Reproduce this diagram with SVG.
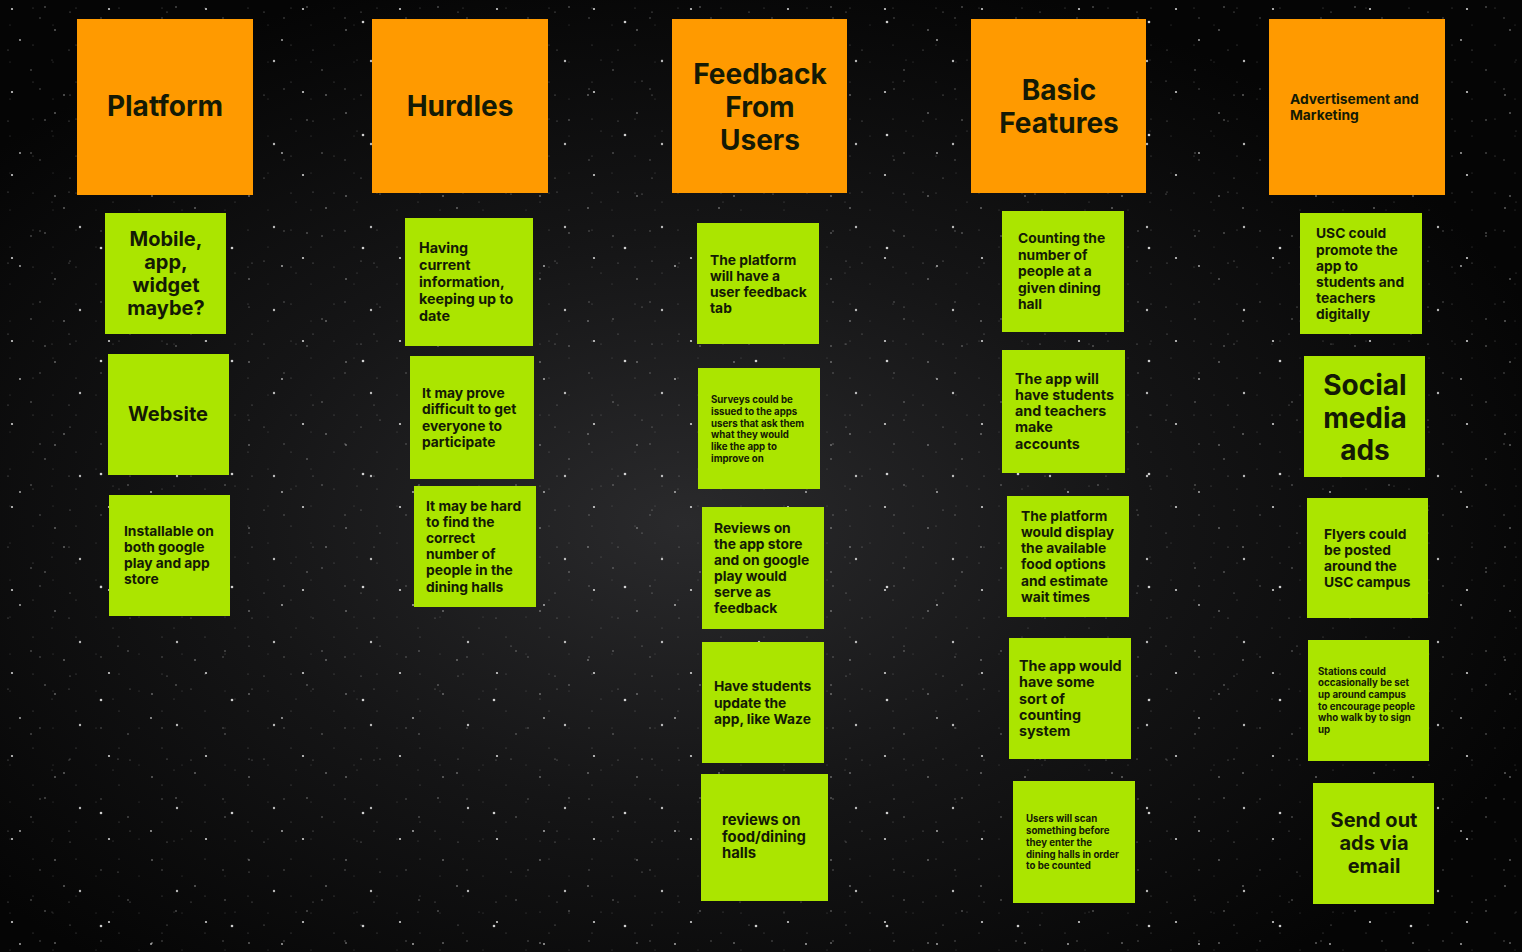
<svg xmlns="http://www.w3.org/2000/svg" width="1522" height="952" viewBox="0 0 1522 952">
<style>
.hdr{fill:#FF9A00}
.note{fill:#ABE500}
.t{font-family:Inter,"Open Sans","Liberation Sans",sans-serif;font-weight:700;fill:#141a05}
.h{font-size:28px;text-anchor:middle}
.big{font-size:20px;text-anchor:middle}
.m{font-size:13.8px}
.s{font-size:9.7px}
</style>
<defs>
<radialGradient id="haze" cx="0.45" cy="0.55" r="0.6">
<stop offset="0" stop-color="#2a2a2c"/>
<stop offset="0.5" stop-color="#151516"/>
<stop offset="1" stop-color="#050505"/>
</radialGradient>
<pattern id="st1" width="97" height="83" patternUnits="userSpaceOnUse">
<circle cx="12" cy="9" r="1.1" fill="#fff" opacity="0.8"/>
<circle cx="55" cy="30" r="0.8" fill="#fff" opacity="0.6"/>
<circle cx="80" cy="61" r="1.2" fill="#fff" opacity="0.7"/>
<circle cx="31" cy="70" r="0.7" fill="#fff" opacity="0.5"/>
<circle cx="70" cy="12" r="0.6" fill="#fff" opacity="0.5"/>
</pattern>
<pattern id="st2" width="131" height="113" patternUnits="userSpaceOnUse">
<circle cx="20" cy="40" r="0.9" fill="#fff" opacity="0.7"/>
<circle cx="101" cy="22" r="1.3" fill="#fff" opacity="0.8"/>
<circle cx="64" cy="95" r="0.8" fill="#fff" opacity="0.6"/>
<circle cx="118" cy="81" r="0.6" fill="#fff" opacity="0.5"/>
<circle cx="45" cy="7" r="0.7" fill="#fff" opacity="0.55"/>
</pattern>
<pattern id="st3" width="61" height="71" patternUnits="userSpaceOnUse">
<circle cx="8" cy="50" r="0.6" fill="#ddd" opacity="0.5"/>
<circle cx="40" cy="18" r="0.7" fill="#ddd" opacity="0.45"/>
<circle cx="52" cy="60" r="0.5" fill="#ddd" opacity="0.4"/>
</pattern>
<pattern id="st4" width="43" height="37" patternUnits="userSpaceOnUse">
<circle cx="10" cy="25" r="0.5" fill="#ccc" opacity="0.35"/>
<circle cx="33" cy="8" r="0.6" fill="#ccc" opacity="0.4"/>
</pattern>
</defs>
<g id="background">
<rect width="1522" height="952" fill="url(#haze)"/>
<rect width="1522" height="952" fill="url(#st4)"/>
<rect width="1522" height="952" fill="url(#st1)"/>
<rect width="1522" height="952" fill="url(#st2)"/>
<rect width="1522" height="952" fill="url(#st3)"/>
</g>

<g id="h-platform"><rect class="hdr" x="77" y="19" width="176" height="176"/><text class="t h" x="165" y="116">Platform</text></g>
<g id="h-hurdles"><rect class="hdr" x="372" y="19" width="176" height="174"/><text class="t h" x="460" y="116">Hurdles</text></g>
<g id="h-feedback"><rect class="hdr" x="672" y="19" width="175" height="174"/><text class="t h"><tspan x="760" y="84">Feedback</tspan><tspan x="760" y="117">From</tspan><tspan x="760" y="150">Users</tspan></text></g>
<g id="h-basic"><rect class="hdr" x="971" y="19" width="175" height="174"/><text class="t h"><tspan x="1059" y="100">Basic</tspan><tspan x="1059" y="133">Features</tspan></text></g>
<g id="h-advert"><rect class="hdr" x="1269" y="19" width="176" height="176"/><text class="t" style="font-size:13.8px"><tspan x="1290" y="104">Advertisement and</tspan><tspan x="1290" y="120">Marketing</tspan></text></g>

<g id="n-mobile"><rect class="note" x="105" y="213" width="121" height="121"/><text class="t big"><tspan x="166" y="246">Mobile,</tspan><tspan x="166" y="269">app,</tspan><tspan x="166" y="292">widget</tspan><tspan x="166" y="315">maybe?</tspan></text></g>
<g id="n-website"><rect class="note" x="108" y="354" width="121" height="121"/><text class="t big" x="168" y="421">Website</text></g>
<g id="n-installable"><rect class="note" x="109" y="495" width="121" height="121"/><text class="t m"><tspan x="124" y="536">Installable on</tspan><tspan x="124" y="552">both google</tspan><tspan x="124" y="568">play and app</tspan><tspan x="124" y="584">store</tspan></text></g>

<g id="n-having"><rect class="note" x="405" y="218" width="128" height="128"/><text class="t m" style="font-size:14.3px"><tspan x="419" y="253">Having</tspan><tspan x="419" y="270">current</tspan><tspan x="419" y="287">information,</tspan><tspan x="419" y="304">keeping up to</tspan><tspan x="419" y="321">date</tspan></text></g>
<g id="n-prove"><rect class="note" x="410" y="356" width="124" height="123"/><text class="t m"><tspan x="422" y="398">It may prove</tspan><tspan x="422" y="414">difficult to get</tspan><tspan x="422" y="431">everyone to</tspan><tspan x="422" y="447">participate</tspan></text></g>
<g id="n-hard"><rect class="note" x="414" y="486" width="122" height="121"/><text class="t m"><tspan x="426" y="511">It may be hard</tspan><tspan x="426" y="527">to find the</tspan><tspan x="426" y="543">correct</tspan><tspan x="426" y="559">number of</tspan><tspan x="426" y="575">people in the</tspan><tspan x="426" y="592">dining halls</tspan></text></g>

<g id="n-tab"><rect class="note" x="697" y="223" width="122" height="121"/><text class="t m"><tspan x="710" y="265">The platform</tspan><tspan x="710" y="281">will have a</tspan><tspan x="710" y="297">user feedback</tspan><tspan x="710" y="313">tab</tspan></text></g>
<g id="n-surveys"><rect class="note" x="698" y="368" width="122" height="121"/><text class="t s"><tspan x="711" y="403">Surveys could be</tspan><tspan x="711" y="415">issued to the apps</tspan><tspan x="711" y="427">users that ask them</tspan><tspan x="711" y="438">what they would</tspan><tspan x="711" y="450">like the app to</tspan><tspan x="711" y="462">improve on</tspan></text></g>
<g id="n-reviews"><rect class="note" x="702" y="507" width="122" height="122"/><text class="t m"><tspan x="714" y="533">Reviews on</tspan><tspan x="714" y="549">the app store</tspan><tspan x="714" y="565">and on google</tspan><tspan x="714" y="581">play would</tspan><tspan x="714" y="597">serve as</tspan><tspan x="714" y="613">feedback</tspan></text></g>
<g id="n-waze"><rect class="note" x="702" y="642" width="122" height="121"/><text class="t m"><tspan x="714" y="691">Have students</tspan><tspan x="714" y="708">update the</tspan><tspan x="714" y="724">app, like Waze</tspan></text></g>
<g id="n-food"><rect class="note" x="701" y="774" width="127" height="127"/><text class="t m" style="font-size:14.8px"><tspan x="722" y="825">reviews on</tspan><tspan x="722" y="842">food/dining</tspan><tspan x="722" y="858">halls</tspan></text></g>

<g id="n-counting"><rect class="note" x="1002" y="211" width="122" height="121"/><text class="t m"><tspan x="1018" y="243">Counting the</tspan><tspan x="1018" y="260">number of</tspan><tspan x="1018" y="276">people at a</tspan><tspan x="1018" y="293">given dining</tspan><tspan x="1018" y="309">hall</tspan></text></g>
<g id="n-accounts"><rect class="note" x="1002" y="350" width="123" height="123"/><text class="t m" style="font-size:14.3px"><tspan x="1015" y="384">The app will</tspan><tspan x="1015" y="400">have students</tspan><tspan x="1015" y="416">and teachers</tspan><tspan x="1015" y="432">make</tspan><tspan x="1015" y="449">accounts</tspan></text></g>
<g id="n-display"><rect class="note" x="1007" y="496" width="122" height="121"/><text class="t m"><tspan x="1021" y="521">The platform</tspan><tspan x="1021" y="537">would display</tspan><tspan x="1021" y="553">the available</tspan><tspan x="1021" y="569">food options</tspan><tspan x="1021" y="586">and estimate</tspan><tspan x="1021" y="602">wait times</tspan></text></g>
<g id="n-counting-sys"><rect class="note" x="1009" y="638" width="122" height="121"/><text class="t m" style="font-size:14.3px"><tspan x="1019" y="671">The app would</tspan><tspan x="1019" y="687">have some</tspan><tspan x="1019" y="704">sort of</tspan><tspan x="1019" y="720">counting</tspan><tspan x="1019" y="736">system</tspan></text></g>
<g id="n-scan"><rect class="note" x="1013" y="781" width="122" height="122"/><text class="t s"><tspan x="1026" y="822">Users will scan</tspan><tspan x="1026" y="834">something before</tspan><tspan x="1026" y="846">they enter the</tspan><tspan x="1026" y="858">dining halls in order</tspan><tspan x="1026" y="869">to be counted</tspan></text></g>

<g id="n-usc"><rect class="note" x="1300" y="213" width="122" height="121"/><text class="t m"><tspan x="1316" y="238">USC could</tspan><tspan x="1316" y="255">promote the</tspan><tspan x="1316" y="271">app to</tspan><tspan x="1316" y="287">students and</tspan><tspan x="1316" y="303">teachers</tspan><tspan x="1316" y="319">digitally</tspan></text></g>
<g id="n-social"><rect class="note" x="1304" y="356" width="121" height="121"/><text class="t h"><tspan x="1365" y="395">Social</tspan><tspan x="1365" y="428">media</tspan><tspan x="1365" y="460">ads</tspan></text></g>
<g id="n-flyers"><rect class="note" x="1307" y="498" width="121" height="120"/><text class="t m"><tspan x="1324" y="539">Flyers could</tspan><tspan x="1324" y="555">be posted</tspan><tspan x="1324" y="571">around the</tspan><tspan x="1324" y="587">USC campus</tspan></text></g>
<g id="n-stations"><rect class="note" x="1308" y="640" width="121" height="121"/><text class="t s"><tspan x="1318" y="675">Stations could</tspan><tspan x="1318" y="686">occasionally be set</tspan><tspan x="1318" y="698">up around campus</tspan><tspan x="1318" y="710">to encourage people</tspan><tspan x="1318" y="721">who walk by to sign</tspan><tspan x="1318" y="733">up</tspan></text></g>
<g id="n-email"><rect class="note" x="1313" y="783" width="121" height="121"/><text class="t big"><tspan x="1374" y="827">Send out</tspan><tspan x="1374" y="850">ads via</tspan><tspan x="1374" y="873">email</tspan></text></g>
<g id="connectors"/>
</svg>
